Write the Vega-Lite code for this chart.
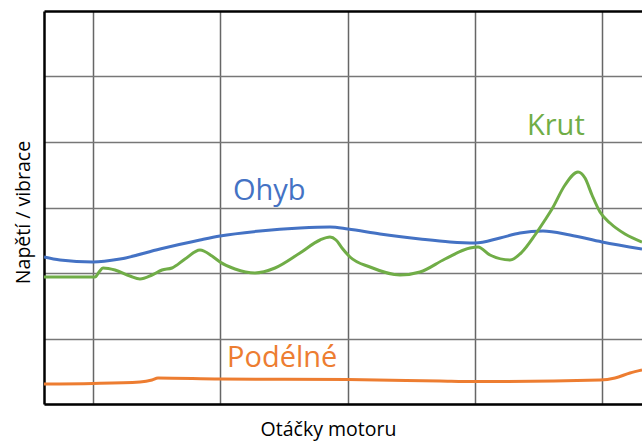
{
  "$schema": "https://vega.github.io/schema/vega-lite/v6.json",
  "width": 598,
  "height": 393,
  "autosize": {"type": "none"},
  "padding": {"left": 44, "top": 11, "right": 0, "bottom": 37},
  "background": "white",
  "config": {
    "view": {"stroke": null},
    "font": "Open Sans"
  },
  "datasets": {
    "lines": [
      {"s": "Ohyb", "x": 0, "y": 147}, {"s": "Ohyb", "x": 16, "y": 144}, {"s": "Ohyb", "x": 49, "y": 142}, {"s": "Ohyb", "x": 76, "y": 145}, {"s": "Ohyb", "x": 116, "y": 155}, {"s": "Ohyb", "x": 156, "y": 164}, {"s": "Ohyb", "x": 176, "y": 168}, {"s": "Ohyb", "x": 216, "y": 173}, {"s": "Ohyb", "x": 256, "y": 176}, {"s": "Ohyb", "x": 286, "y": 177}, {"s": "Ohyb", "x": 304, "y": 175}, {"s": "Ohyb", "x": 336, "y": 170}, {"s": "Ohyb", "x": 376, "y": 165}, {"s": "Ohyb", "x": 406, "y": 162}, {"s": "Ohyb", "x": 431, "y": 161}, {"s": "Ohyb", "x": 456, "y": 166}, {"s": "Ohyb", "x": 476, "y": 171}, {"s": "Ohyb", "x": 499, "y": 173}, {"s": "Ohyb", "x": 526, "y": 169}, {"s": "Ohyb", "x": 558, "y": 162}, {"s": "Ohyb", "x": 598, "y": 155},
      {"s": "Krut", "x": 0, "y": 127}, {"s": "Krut", "x": 51, "y": 127}, {"s": "Krut", "x": 55, "y": 132}, {"s": "Krut", "x": 59, "y": 136}, {"s": "Krut", "x": 71, "y": 134}, {"s": "Krut", "x": 86, "y": 128}, {"s": "Krut", "x": 96, "y": 125}, {"s": "Krut", "x": 108, "y": 129}, {"s": "Krut", "x": 118, "y": 134}, {"s": "Krut", "x": 128, "y": 136}, {"s": "Krut", "x": 141, "y": 145}, {"s": "Krut", "x": 156, "y": 154}, {"s": "Krut", "x": 168, "y": 148}, {"s": "Krut", "x": 176, "y": 142}, {"s": "Krut", "x": 191, "y": 135}, {"s": "Krut", "x": 211, "y": 131}, {"s": "Krut", "x": 231, "y": 136}, {"s": "Krut", "x": 256, "y": 151}, {"s": "Krut", "x": 276, "y": 164}, {"s": "Krut", "x": 286, "y": 167}, {"s": "Krut", "x": 292, "y": 164}, {"s": "Krut", "x": 298, "y": 156}, {"s": "Krut", "x": 306, "y": 147}, {"s": "Krut", "x": 326, "y": 137}, {"s": "Krut", "x": 356, "y": 129}, {"s": "Krut", "x": 376, "y": 132}, {"s": "Krut", "x": 401, "y": 145}, {"s": "Krut", "x": 426, "y": 156}, {"s": "Krut", "x": 434, "y": 157}, {"s": "Krut", "x": 446, "y": 149}, {"s": "Krut", "x": 466, "y": 144}, {"s": "Krut", "x": 478, "y": 152}, {"s": "Krut", "x": 491, "y": 169}, {"s": "Krut", "x": 501, "y": 184}, {"s": "Krut", "x": 508, "y": 195}, {"s": "Krut", "x": 521, "y": 219}, {"s": "Krut", "x": 534, "y": 232}, {"s": "Krut", "x": 541, "y": 226}, {"s": "Krut", "x": 548, "y": 209}, {"s": "Krut", "x": 556, "y": 192}, {"s": "Krut", "x": 566, "y": 181}, {"s": "Krut", "x": 581, "y": 170}, {"s": "Krut", "x": 598, "y": 162},
      {"s": "Podélné", "x": 0, "y": 20}, {"s": "Podélné", "x": 49, "y": 20.5}, {"s": "Podélné", "x": 96, "y": 22}, {"s": "Podélné", "x": 108, "y": 24}, {"s": "Podélné", "x": 114, "y": 26}, {"s": "Podélné", "x": 176, "y": 25}, {"s": "Podélné", "x": 304, "y": 24.5}, {"s": "Podélné", "x": 396, "y": 23}, {"s": "Podélné", "x": 431, "y": 22.5}, {"s": "Podélné", "x": 556, "y": 24}, {"s": "Podélné", "x": 571, "y": 26}, {"s": "Podélné", "x": 586, "y": 31}, {"s": "Podélné", "x": 598, "y": 34}
    ],
    "labels": [
      {"s": "Ohyb", "x": 189, "y": 204},
      {"s": "Krut", "x": 483, "y": 269},
      {"s": "Podélné", "x": 183, "y": 37}
    ]
  },
  "layer": [
    {
      "data": {"name": "lines"},
      "mark": {"type": "line", "interpolate": "monotone", "strokeWidth": 3, "clip": true},
      "encoding": {
        "x": {
          "field": "x", "type": "quantitative",
          "scale": {"domain": [0, 598], "nice": false, "zero": false},
          "axis": {
            "values": [49, 176, 304, 431, 558],
            "labels": false, "ticks": false,
            "grid": true, "gridColor": "#666666", "gridWidth": 1.5,
            "domain": true, "domainColor": "#000000", "domainWidth": 2.5,
            "title": "Otáčky motoru", "titleFont": "Open Sans", "titleFontSize": 19.5,
            "titleFontWeight": "normal", "titleColor": "#000000",
            "titleX": 284, "titleY": 31, "titleAlign": "center", "titleBaseline": "alphabetic"
          }
        },
        "y": {
          "field": "y", "type": "quantitative",
          "scale": {"domain": [0, 393], "nice": false, "zero": false},
          "axis": {
            "values": [0, 65.5, 131, 196.5, 262, 327.5, 393],
            "labels": false, "ticks": false,
            "grid": true,
            "gridColor": {"condition": {"test": "datum.value >= 390", "value": "#000000"}, "value": "#777777"},
            "gridWidth": {"condition": {"test": "datum.value >= 390", "value": 2.5}, "value": 1.5},
            "domain": true, "domainColor": "#000000", "domainWidth": 2.5,
            "title": "Napětí / vibrace", "titleFont": "Open Sans", "titleFontSize": 19.5,
            "titleFontWeight": "normal", "titleColor": "#000000",
            "titleAngle": -90, "titleX": -15, "titleY": 201, "titleAlign": "center", "titleBaseline": "alphabetic"
          }
        },
        "color": {
          "field": "s", "type": "nominal",
          "scale": {"domain": ["Ohyb", "Krut", "Podélné"], "range": ["#4472C4", "#70AD47", "#ED7D31"]},
          "legend": null
        },
        "detail": {"field": "s"}
      }
    },
    {
      "data": {"name": "labels"},
      "mark": {"type": "text", "align": "left", "baseline": "alphabetic", "fontSize": 29, "font": "Open Sans"},
      "encoding": {
        "x": {"field": "x", "type": "quantitative"},
        "y": {"field": "y", "type": "quantitative"},
        "text": {"field": "s"},
        "color": {
          "field": "s", "type": "nominal",
          "scale": {"domain": ["Ohyb", "Krut", "Podélné"], "range": ["#4472C4", "#70AD47", "#ED7D31"]},
          "legend": null
        }
      }
    }
  ]
}
